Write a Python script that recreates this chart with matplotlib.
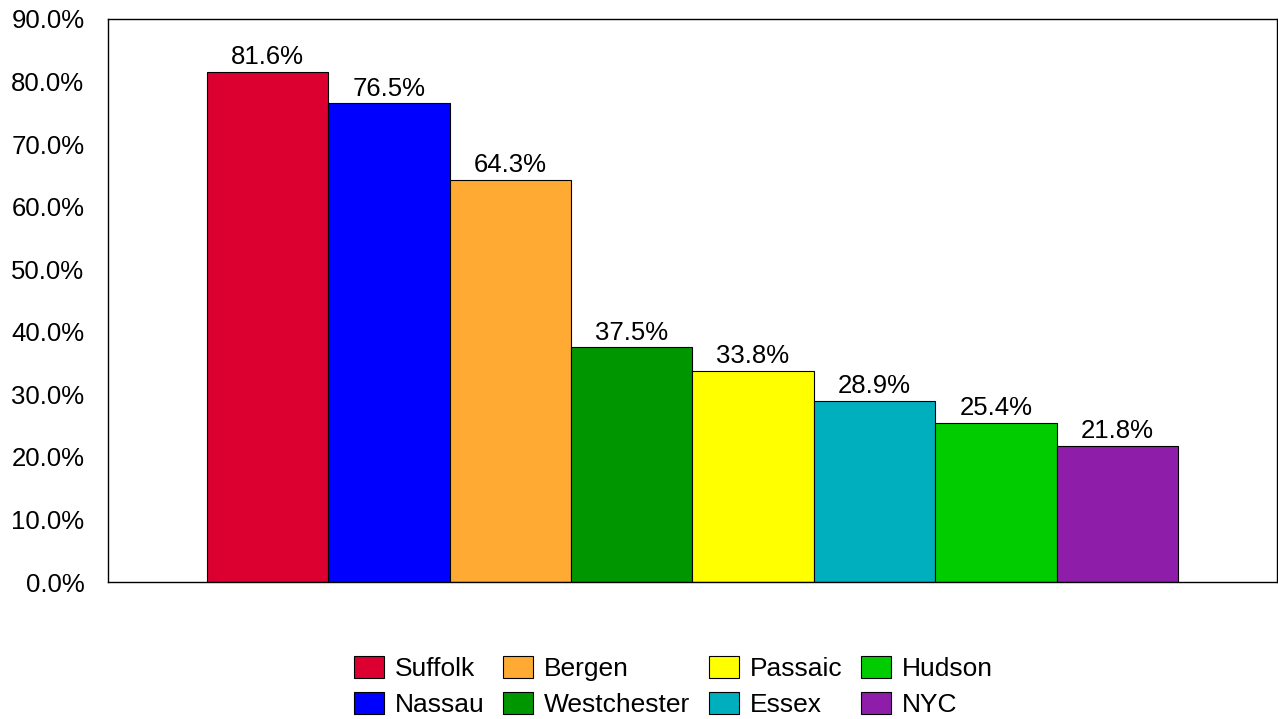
import matplotlib
matplotlib.use("Agg")
import matplotlib.pyplot as plt

plt.rcParams['font.family'] = ['Liberation Sans', 'DejaVu Sans']

# Data
counties = ["Suffolk", "Nassau", "Bergen", "Westchester", "Passaic", "Essex", "Hudson", "NYC"]
shares = [81.6, 76.5, 64.3, 37.5, 33.8, 28.9, 25.4, 21.8]
colors = ["#DC0030", "#0000FF", "#FFAA33", "#009600", "#FFFF00", "#00AFBE", "#00CC00", "#8E1DAA"]
yticks = [0, 10, 20, 30, 40, 50, 60, 70, 80, 90]

fig = plt.figure(figsize=(12.78, 7.19), dpi=100)
ax = fig.add_axes([0.0845, 0.1905, 0.9145, 0.7831])

bars = ax.bar(range(len(counties)), shares, width=1.0, color=colors,
              edgecolor="black", linewidth=0.8, label=counties)

for b, v in zip(bars, shares):
    ax.annotate(f"{v:.1f}%", (b.get_x() + b.get_width() / 2, v),
                xytext=(0, 2), textcoords="offset points",
                ha="center", va="bottom", fontsize=18.5)

ax.set_xlim(-1.314, 8.314)
ax.set_ylim(0, 90)
ax.set_yticks(yticks)
ax.set_yticklabels([f"{t:.1f}%" for t in yticks], fontsize=18.5)
ax.set_xticks([])
ax.tick_params(axis="y", length=0, pad=17)
for s in ax.spines.values():
    s.set_linewidth(1.0)

fig.legend(bars, counties, loc="center", bbox_to_anchor=(0.527, 0.045),
           ncol=4, frameon=False, fontsize=19, handlelength=1.14,
           handleheight=0.9, handletextpad=0.42, columnspacing=0.7,
           labelspacing=0.42)

fig.savefig("out.png", dpi=100)
